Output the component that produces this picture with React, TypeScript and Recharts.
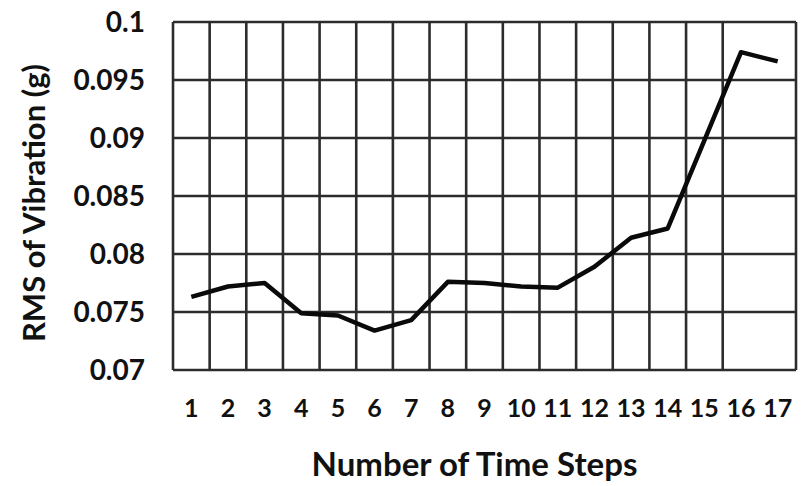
import React from 'react';
import { LineChart, Line, XAxis, YAxis, CartesianGrid } from 'recharts';

// time step index and RMS vibration
const steps = [1, 2, 3, 4, 5, 6, 7, 8, 9, 10, 11, 12, 13, 14, 15, 16, 17];
const rms = [
  0.0763, 0.0772, 0.0775, 0.0749, 0.0747, 0.0734, 0.0743, 0.0776, 0.0775,
  0.0772, 0.0771, 0.0789, 0.0814, 0.0822, 0.0898, 0.0974, 0.0966,
];
const yTicks = [0.07, 0.075, 0.08, 0.085, 0.09, 0.095, 0.1];
// category boundaries, used for the vertical grid lines
const boundaries = [
  0.5, 1.5, 2.5, 3.5, 4.5, 5.5, 6.5, 7.5, 8.5, 9.5, 10.5, 11.5, 12.5, 13.5,
  14.5, 15.5, 16.5, 17.5,
];

const data = steps.map((s, i) => ({ step: s, rms: rms[i] }));

const FONT = 'Lato, "Open Sans", sans-serif';
const INK = '#111';

const YTitle = (props: any) => {
  const { x, y, height } = props.viewBox;
  const cx = x + 33;
  const cy = y + height / 2 + 7;
  return (
    <text
      x={cx}
      y={cy}
      transform={`rotate(-90, ${cx}, ${cy})`}
      textAnchor="middle"
      dominantBaseline="central"
      fill={INK}
      style={{ fontFamily: FONT, fontSize: 31, fontWeight: 700 }}
    >
      RMS of Vibration (g)
    </text>
  );
};

const XTitle = (props: any) => {
  const { x, y, width } = props.viewBox;
  return (
    <text
      x={x + width / 2 - 10}
      y={y + 93}
      textAnchor="middle"
      dominantBaseline="central"
      fill={INK}
      style={{ fontFamily: FONT, fontSize: 33, fontWeight: 700 }}
    >
      Number of Time Steps
    </text>
  );
};

const App: React.FC = () => {
  return (
    <div style={{ position: 'absolute', left: 0, top: 0, width: 802, height: 486, background: '#fff' }}>
      <LineChart
        width={802}
        height={486}
        data={data}
        margin={{ top: 22, right: 6, left: 0, bottom: 0 }}
      >
        <CartesianGrid
          xAxisId="grid"
          stroke="#2c2c2c"
          strokeWidth={2.6}
          fill="#fff"
        />
        <XAxis
          xAxisId="grid"
          type="number"
          dataKey="step"
          domain={[0.5, 17.5]}
          ticks={boundaries}
          hide
        />
        <XAxis
          type="number"
          dataKey="step"
          domain={[0.5, 17.5]}
          ticks={steps}
          interval={0}
          height={116}
          axisLine={false}
          tickLine={false}
          tickSize={6}
          tickMargin={23}
          tick={{ fill: INK, fontSize: 25, fontWeight: 700, fontFamily: FONT }}
          label={<XTitle />}
        />
        <YAxis
          type="number"
          domain={[0.07, 0.1]}
          ticks={yTicks}
          width={173}
          axisLine={false}
          tickLine={false}
          tickSize={6}
          tickMargin={22}
          tick={{ fill: INK, fontSize: 28, fontWeight: 700, fontFamily: FONT }}
          label={<YTitle />}
        />
        <Line
          type="linear"
          dataKey="rms"
          stroke="#0a0a0a"
          strokeWidth={4.5}
          strokeLinejoin="round"
          dot={false}
          isAnimationActive={false}
        />
      </LineChart>
    </div>
  );
};

export default App;
